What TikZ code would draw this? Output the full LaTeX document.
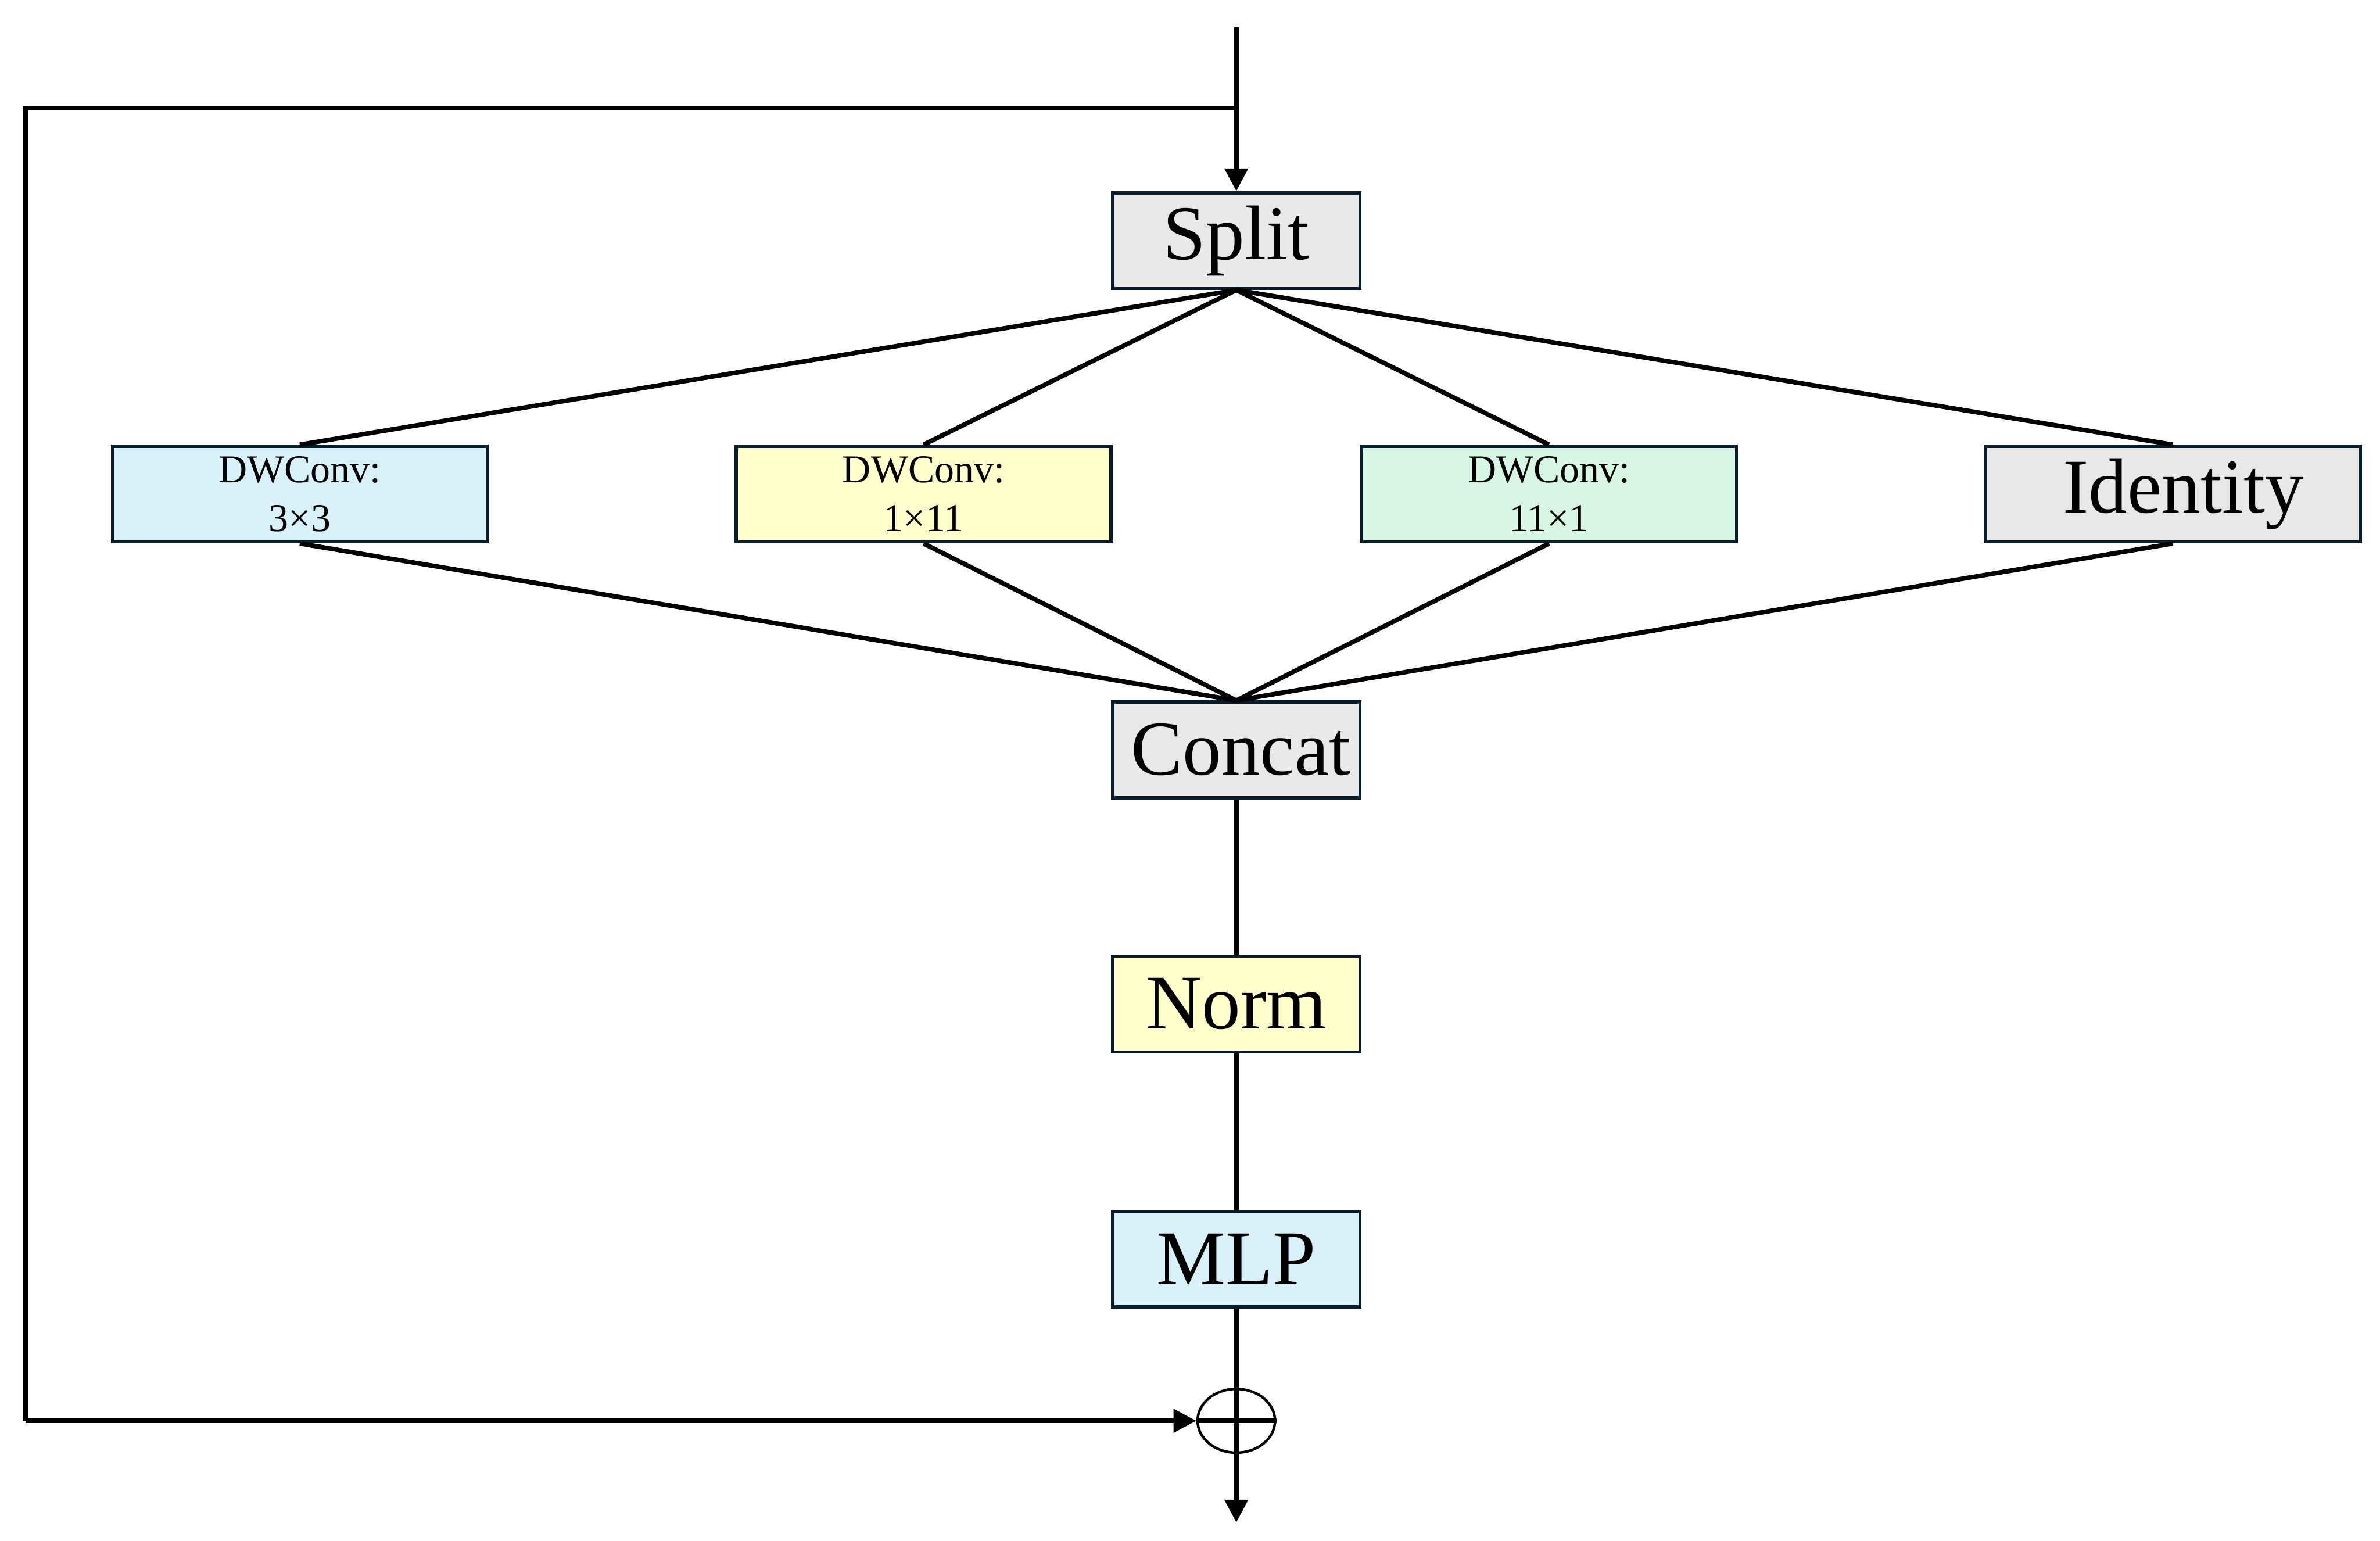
\documentclass[tikz,border=0pt]{standalone}
\usepackage{fontspec}
\setmainfont{Liberation Serif}
\usetikzlibrary{arrows.meta,shapes.geometric}
\definecolor{bordc}{HTML}{0B1D2A}
\definecolor{cgray}{HTML}{E8E8E8}
\definecolor{cblue}{HTML}{D8F1F8}
\definecolor{cyellow}{HTML}{FFFFCC}
\definecolor{cgreen}{HTML}{D8F6E4}
\tikzset{
  bigbox/.style={draw=bordc, line width=2.1pt, minimum width=163pt, minimum height=63pt, inner sep=0pt, font=\fontsize{51}{60}\selectfont},
  dwbox/.style={draw=bordc, line width=2.1pt, minimum width=247pt, minimum height=63pt, inner sep=0pt, align=center, font=\fontsize{26}{32}\selectfont},
  conn/.style={line width=3pt},
  arr/.style={line width=3pt, -{Triangle[length=15pt,width=15pt]}},
}
\begin{document}
\begin{tikzpicture}[x=1pt,y=-1pt]
\useasboundingbox (0,0) rectangle (1568,1015);
% nodes
\node[bigbox, fill=cgray] (split) at (814.5,158.5) {Split};
\node[dwbox, fill=cblue] (dw1) at (197.5,325.5) {DWConv:\\3×3};
\node[dwbox, fill=cyellow] (dw2) at (608.5,325.5) {DWConv:\\1×11};
\node[dwbox, fill=cgreen] (dw3) at (1020.5,325.5) {DWConv:\\11×1};
\node[dwbox, fill=cgray, font=\fontsize{51}{60}\selectfont] (ident) at (1431.5,325.5) {\hspace{14pt}Identity};
\node[bigbox, fill=cgray] (concat) at (814.5,494) {\hspace{6pt}Concat};
\node[bigbox, fill=cyellow] (norm) at (814.5,661.5) {Norm};
\node[bigbox, fill=cblue] (mlp) at (814.5,829.5) {MLP};
\node[ellipse, draw, line width=1.7pt, minimum width=51pt, minimum height=42pt, inner sep=0pt] (sum) at (814.5,936) {};
\coordinate (in) at (814.5,18);
\coordinate (br) at (814.5,71);
\coordinate (tl) at (17,71);
\coordinate (bl) at (17,936);
\coordinate (out) at (814.5,1003);
% connectors
\draw[arr] (in) -- (split.north);
\draw[conn] (br) -- (tl) -- (bl);
\draw[arr] (bl) -- (sum.west);
\foreach \n in {dw1,dw2,dw3,ident}{
  \draw[conn] (split.south) -- (\n.north);
  \draw[conn] (\n.south) -- (concat.north);
}
\draw[conn] (concat.south) -- (norm.north);
\draw[conn] (norm.south) -- (mlp.north);
\draw[conn] (mlp.south) -- (sum.south);
\draw[conn] (sum.west) -- (sum.east);
\draw[arr] (sum.south) -- (out);
\end{tikzpicture}
\end{document}
